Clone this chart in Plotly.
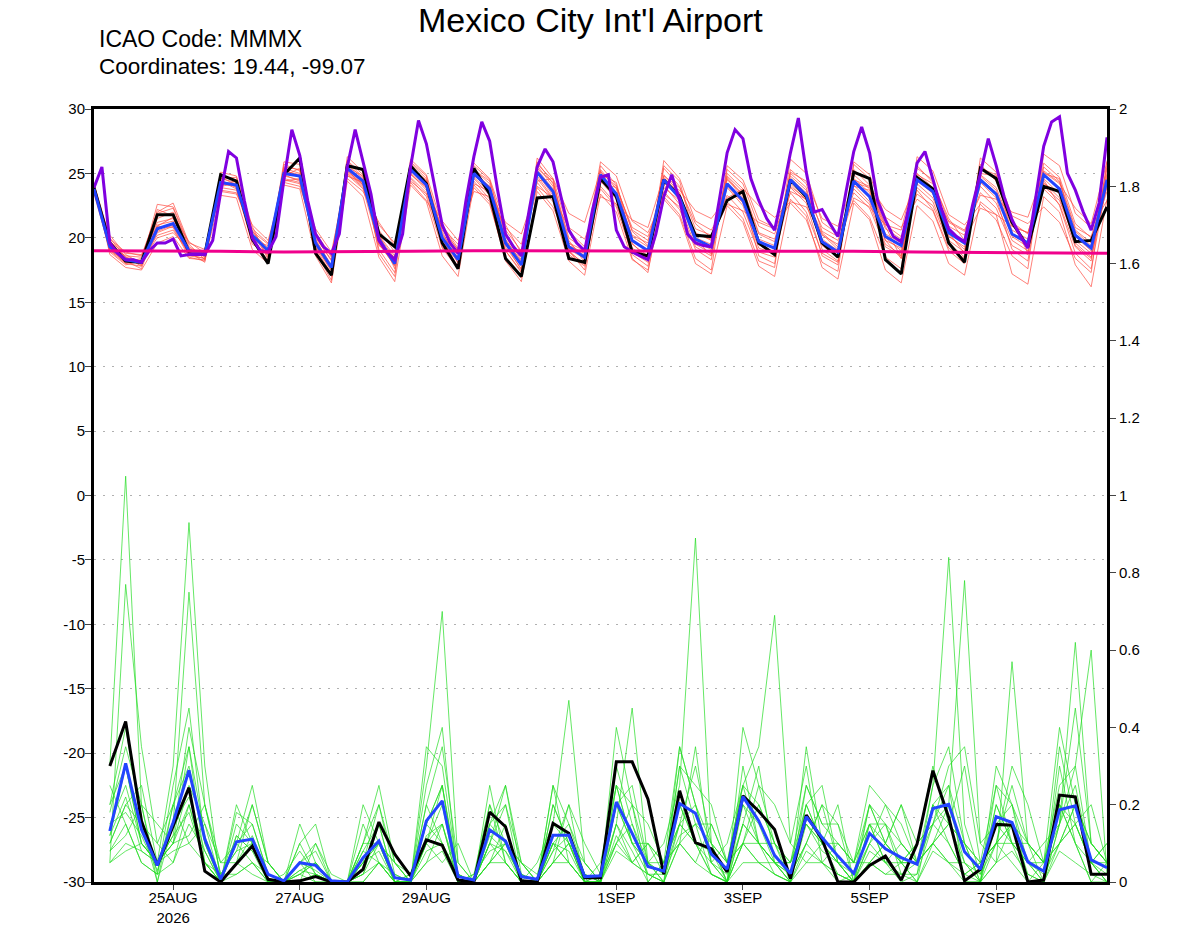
import plotly.graph_objects as go
import pandas as pd

# time axis: 6-hourly forecast steps, purple run is 3-hourly
start = "2026-08-23 18:00"
t6 = pd.date_range(start, periods=65, freq="6h")
t3 = pd.date_range(start, periods=129, freq="3h")
tday = pd.date_range(start, periods=17, freq="1D")

# temperature (left axis, degC)
temp_ctl = [23.9, 19.6, 18.2, 18.1, 21.8, 21.8, 18.9, 18.7, 24.9, 24.4,
            19.9, 18.0, 24.9, 26.2, 18.8, 17.1, 25.6, 25.3, 20.3, 19.3,
            25.6, 24.2, 19.6, 17.6, 25.4, 23.4, 18.4, 17.0, 23.1, 23.2,
            18.4, 18.1, 24.6, 23.2, 18.9, 18.6, 24.5, 23.2, 20.2, 20.1,
            22.9, 23.6, 19.6, 18.7, 24.5, 23.2, 19.6, 18.5, 25.1, 24.6,
            18.3, 17.2, 24.7, 23.8, 19.6, 18.1, 25.4, 24.6, 21.2, 19.3,
            24.0, 23.6, 19.7, 19.8, 22.4]
temp_mean = [23.8, 19.3, 18.3, 18.1, 20.7, 21.1, 19.0, 18.7, 24.3, 24.1,
             20.2, 19.0, 25.0, 24.8, 19.6, 17.7, 25.4, 24.4, 19.9, 18.0,
             25.3, 24.1, 20.0, 18.3, 25.0, 23.8, 19.6, 17.9, 25.1, 23.6,
             19.3, 18.5, 24.9, 23.4, 19.8, 19.0, 24.5, 23.1, 19.9, 19.3,
             24.2, 22.9, 19.7, 19.2, 24.5, 23.3, 19.7, 18.9, 24.4, 23.2,
             20.1, 19.4, 24.5, 23.6, 20.4, 19.6, 24.5, 23.4, 20.3, 19.6,
             24.9, 23.8, 20.2, 19.2, 24.5]
temp_hires = [23.9, 25.5, 19.6, 18.8, 18.3, 18.3, 18.1, 19.0, 19.6, 19.6,
              19.9, 18.6, 18.7, 18.7, 18.7, 19.8, 23.5, 26.7, 26.2, 22.9,
              20.0, 19.0, 18.9, 20.1, 24.5, 28.4, 26.4, 22.9, 20.3, 19.3,
              18.8, 20.3, 25.5, 28.4, 26.0, 23.4, 19.8, 18.9, 18.3, 20.3,
              25.5, 29.1, 27.3, 24.2, 21.0, 19.6, 18.8, 22.9, 26.3, 29.0,
              27.5, 23.7, 20.3, 19.3, 18.6, 22.2, 25.5, 26.9, 25.9, 23.2,
              20.6, 19.6, 19.0, 22.2, 24.7, 24.9, 20.6, 19.3, 18.9, 18.6,
              18.3, 20.3, 23.2, 24.9, 22.9, 20.3, 19.6, 19.4, 19.3, 22.9,
              26.6, 28.4, 27.7, 24.6, 22.9, 21.5, 20.6, 23.5, 26.6, 29.3,
              25.1, 22.0, 22.2, 21.1, 20.1, 23.5, 26.7, 28.6, 26.6, 22.9,
              21.4, 20.1, 19.7, 22.5, 25.8, 26.7, 24.5, 22.4, 20.7, 20.1,
              19.7, 22.5, 25.0, 27.7, 25.6, 23.2, 21.4, 20.2, 19.2, 23.0,
              27.1, 29.0, 29.4, 25.0, 23.7, 22.0, 20.6, 22.7, 27.8]
temp_clim = [19.0, 19.0, 18.95, 18.9, 18.9, 18.95, 19.0, 19.0, 18.95,
             18.95, 19.0, 19.0, 18.95, 18.9, 18.85, 18.85, 18.8]

temp_members = [
    [23.6, 19.8, 18.4, 17.9, 21.5, 22.0, 19.2, 18.5, 24.8, 24.5, 20.6, 18.6, 25.5, 25.3, 19.2, 17.2, 26.0, 24.9, 20.3, 17.6, 25.8, 24.6, 20.5, 18.0, 24.4, 23.0, 19.0, 17.4, 25.9, 24.2, 19.8, 18.1, 25.6, 24.1, 20.5, 19.4, 23.6, 22.2, 19.1, 18.3, 25.0, 23.8, 20.4, 19.9, 23.5, 22.0, 18.8, 18.1, 25.3, 24.1, 21.0, 20.1, 23.4, 22.5, 19.6, 18.5, 25.7, 24.4, 21.2, 20.3, 23.8, 22.6, 19.3, 18.2, 25.4],
    [24.1, 19.0, 18.0, 18.3, 20.2, 20.6, 18.8, 18.9, 23.9, 23.7, 19.8, 19.4, 24.6, 24.3, 20.1, 18.2, 24.9, 23.8, 19.4, 18.5, 24.7, 23.5, 19.5, 18.8, 25.6, 24.5, 20.3, 18.5, 24.3, 22.8, 18.7, 17.8, 24.0, 22.6, 19.2, 18.4, 25.4, 24.0, 20.7, 20.2, 23.3, 22.0, 18.9, 18.5, 25.3, 24.2, 20.5, 19.8, 23.5, 22.3, 19.3, 18.6, 25.4, 24.5, 21.2, 20.5, 23.5, 22.3, 19.4, 18.7, 25.8, 24.7, 21.1, 20.0, 23.6],
    [23.5, 20.2, 18.7, 18.0, 22.6, 22.4, 19.5, 18.3, 25.1, 24.8, 20.9, 18.3, 25.9, 25.7, 18.9, 16.7, 26.3, 25.1, 18.8, 17.0, 26.1, 24.9, 21.0, 19.2, 23.9, 22.6, 18.5, 16.9, 26.2, 24.6, 20.5, 19.3, 23.8, 22.4, 18.7, 17.8, 26.0, 24.6, 21.3, 20.6, 22.8, 21.5, 18.2, 17.7, 26.1, 25.0, 21.2, 20.3, 22.9, 21.6, 18.5, 17.6, 26.3, 25.2, 21.8, 21.0, 22.6, 21.4, 18.6, 17.6, 26.5, 25.6, 21.9, 20.8, 22.9],
    [24.0, 19.5, 18.2, 17.6, 21.0, 21.3, 18.6, 18.4, 24.5, 23.9, 19.5, 18.8, 25.2, 24.9, 19.8, 17.9, 25.0, 23.9, 20.6, 18.9, 24.6, 23.2, 19.2, 17.6, 25.3, 24.4, 20.1, 18.3, 24.8, 23.1, 18.9, 18.0, 25.1, 24.0, 20.6, 19.8, 24.1, 22.6, 19.3, 18.6, 24.5, 23.4, 20.3, 19.7, 24.8, 23.7, 19.1, 18.2, 24.9, 23.8, 20.7, 19.9, 23.9, 22.8, 19.8, 18.9, 24.9, 23.9, 20.9, 20.4, 24.3, 23.1, 19.6, 18.5, 24.1],
    [23.7, 18.9, 17.9, 18.2, 20.0, 20.4, 19.1, 19.0, 23.6, 23.4, 20.7, 19.6, 24.3, 24.0, 20.3, 18.5, 25.7, 24.6, 19.1, 17.3, 25.1, 23.9, 20.8, 19.5, 24.7, 23.5, 19.3, 17.6, 25.4, 24.3, 20.0, 19.1, 24.4, 23.0, 18.9, 18.1, 24.9, 23.5, 19.5, 18.8, 25.3, 24.2, 20.9, 20.3, 23.9, 22.7, 18.6, 17.9, 25.7, 24.6, 20.0, 19.0, 24.9, 24.2, 20.9, 20.2, 24.0, 22.7, 19.8, 19.0, 25.2, 24.3, 20.6, 19.6, 25.0],
    [23.9, 19.4, 18.6, 18.5, 21.9, 22.3, 19.3, 18.6, 24.0, 24.2, 20.0, 19.1, 24.9, 24.4, 19.3, 17.5, 25.2, 24.1, 20.0, 18.2, 25.5, 24.3, 19.7, 18.1, 24.6, 23.3, 19.8, 18.2, 25.0, 23.3, 19.1, 18.4, 25.3, 23.8, 20.1, 19.3, 23.9, 22.9, 19.7, 19.1, 23.9, 22.5, 19.2, 18.8, 24.2, 22.9, 20.2, 19.5, 24.1, 22.8, 19.8, 19.2, 25.0, 23.9, 20.1, 19.3, 24.8, 23.7, 20.6, 19.9, 24.6, 23.4, 20.5, 19.4, 24.8],
    [24.2, 20.0, 18.5, 17.8, 22.2, 21.7, 19.7, 18.8, 23.7, 23.5, 21.0, 19.8, 24.4, 24.6, 20.4, 18.6, 24.6, 23.6, 21.2, 19.4, 24.3, 22.9, 20.9, 19.0, 25.8, 24.6, 21.0, 18.8, 23.9, 22.4, 19.6, 19.0, 25.9, 24.8, 21.3, 20.4, 23.2, 21.8, 18.4, 17.5, 25.6, 24.5, 21.4, 20.8, 22.7, 21.4, 18.1, 17.4, 25.9, 24.9, 21.6, 20.8, 23.0, 22.1, 19.0, 18.0, 26.2, 25.1, 21.7, 21.1, 22.4, 21.2, 18.4, 17.3, 26.0],
    [23.4, 19.1, 18.1, 18.4, 20.5, 21.0, 18.9, 18.1, 24.6, 24.7, 20.3, 18.5, 25.7, 25.2, 19.0, 17.0, 25.9, 24.7, 19.6, 17.8, 25.9, 24.8, 19.3, 17.8, 25.1, 24.0, 19.5, 17.5, 25.6, 24.0, 19.0, 17.5, 24.6, 23.3, 20.2, 19.6, 24.7, 23.4, 20.3, 19.9, 24.8, 23.6, 19.5, 18.9, 24.6, 23.5, 20.8, 20.1, 23.8, 22.6, 19.5, 18.7, 24.6, 23.4, 20.5, 19.7, 24.3, 23.1, 19.1, 18.2, 25.5, 24.4, 20.8, 20.1, 23.9],
    [23.8, 19.7, 18.8, 18.7, 20.9, 20.8, 18.5, 18.2, 24.2, 24.0, 19.7, 18.7, 24.8, 24.5, 20.0, 18.3, 25.3, 24.2, 20.1, 18.4, 25.0, 23.7, 20.2, 18.4, 24.9, 23.7, 20.6, 19.0, 24.6, 23.0, 19.4, 18.8, 24.8, 23.5, 19.5, 18.6, 24.4, 23.2, 20.0, 19.5, 24.0, 22.7, 19.9, 19.4, 25.0, 23.9, 19.4, 18.5, 24.6, 23.5, 20.3, 19.6, 24.2, 23.1, 20.2, 19.1, 24.6, 23.5, 20.1, 19.3, 24.0, 22.9, 19.8, 18.8, 24.6],
    [24.3, 18.7, 17.7, 17.5, 19.6, 20.1, 18.4, 18.3, 23.3, 23.1, 19.1, 18.0, 24.1, 23.8, 18.6, 16.5, 24.4, 23.2, 18.5, 16.6, 24.1, 22.8, 18.6, 17.0, 24.1, 22.8, 18.2, 16.6, 23.6, 22.1, 18.2, 17.1, 23.4, 22.0, 18.3, 17.5, 23.0, 21.6, 18.0, 17.2, 22.5, 21.2, 17.8, 17.0, 23.0, 21.7, 17.7, 16.8, 22.7, 21.4, 17.5, 16.5, 22.5, 21.3, 18.0, 17.1, 22.8, 21.8, 17.2, 16.4, 23.2, 22.0, 17.9, 16.2, 23.0],
    [23.7, 19.5, 18.5, 18.2, 21.2, 21.5, 19.1, 18.6, 24.6, 24.3, 20.4, 19.2, 25.3, 24.7, 19.5, 17.6, 25.1, 24.0, 20.2, 18.6, 24.9, 23.9, 20.6, 19.1, 24.2, 23.6, 21.2, 20.3, 24.0, 23.1, 20.8, 19.9, 23.2, 22.6, 21.4, 20.8, 24.8, 23.9, 21.1, 20.0, 22.6, 22.1, 21.2, 20.7, 24.0, 23.0, 20.4, 19.3, 23.1, 22.4, 21.0, 20.6, 25.6, 24.3, 21.5, 19.8, 22.3, 21.8, 20.9, 20.4, 24.2, 23.5, 20.1, 19.0, 25.6],
    [23.6, 19.2, 18.0, 17.8, 20.4, 20.9, 18.7, 18.4, 24.1, 24.4, 19.9, 18.2, 24.8, 25.4, 19.4, 17.4, 25.5, 24.8, 19.5, 17.9, 25.6, 24.4, 19.9, 17.7, 25.3, 24.2, 19.0, 17.3, 25.3, 23.8, 19.6, 18.6, 24.3, 23.9, 20.8, 20.1, 23.4, 22.4, 20.4, 19.8, 24.6, 23.1, 18.6, 18.0, 25.1, 24.4, 21.5, 20.9, 24.3, 23.9, 20.9, 18.4, 23.7, 22.2, 19.2, 18.4, 25.0, 24.8, 21.4, 18.8, 24.5, 22.5, 18.8, 17.6, 24.3],
    [24.0, 19.9, 18.9, 18.6, 22.0, 22.7, 19.6, 19.1, 24.4, 23.8, 20.5, 19.5, 24.5, 24.2, 20.7, 18.9, 24.8, 24.3, 21.0, 19.6, 24.4, 23.4, 21.3, 19.8, 23.6, 23.2, 20.8, 19.5, 24.4, 24.6, 21.9, 21.2, 25.2, 23.2, 18.4, 17.3, 24.2, 23.7, 22.1, 21.5, 23.1, 23.8, 22.5, 21.6, 22.8, 22.4, 20.3, 19.1, 24.5, 24.0, 22.2, 21.4, 24.4, 23.5, 21.3, 20.6, 23.3, 23.0, 22.0, 21.6, 25.1, 24.2, 22.3, 21.1, 25.9],
    [23.9, 19.0, 18.3, 18.0, 20.9, 21.6, 18.8, 18.7, 24.7, 24.1, 20.1, 18.9, 25.4, 25.0, 19.9, 17.8, 25.2, 24.1, 19.7, 18.3, 25.4, 24.5, 20.3, 18.6, 24.8, 24.0, 19.9, 18.1, 25.7, 24.5, 19.0, 17.9, 24.9, 24.3, 19.6, 18.3, 25.6, 24.4, 19.8, 18.7, 24.7, 23.3, 19.5, 18.6, 23.6, 23.0, 19.9, 19.0, 24.0, 23.7, 19.8, 18.4, 24.7, 23.8, 20.4, 18.8, 25.4, 24.9, 20.2, 19.5, 25.0, 24.6, 19.4, 18.4, 24.4],
]

# 6-hourly precipitation (right axis), first value valid at the 2nd step
prcp_ctl = [0.30, 0.415, 0.158, 0.043, 0.145, 0.244, 0.028, 0.0,
            0.047, 0.093, 0.007, 0.0, 0.003, 0.014, 0.0, 0.0,
            0.033, 0.155, 0.072, 0.016, 0.109, 0.095, 0.005, 0.0,
            0.181, 0.143, 0.003, 0.0, 0.152, 0.126, 0.011, 0.011,
            0.311, 0.311, 0.214, 0.020, 0.236, 0.102, 0.086, 0.026,
            0.223, 0.183, 0.136, 0.009, 0.173, 0.111, 0.0, 0.0,
            0.043, 0.067, 0.005, 0.098, 0.288, 0.167, 0.003, 0.033,
            0.149, 0.147, 0.0, 0.005, 0.225, 0.220, 0.020, 0.020]
prcp_mean = [0.132, 0.307, 0.136, 0.043, 0.154, 0.289, 0.111, 0.007,
             0.104, 0.111, 0.020, 0.003, 0.050, 0.043, 0.003, 0.0,
             0.063, 0.106, 0.011, 0.005, 0.158, 0.210, 0.014, 0.005,
             0.135, 0.106, 0.014, 0.007, 0.121, 0.121, 0.014, 0.016,
             0.207, 0.126, 0.040, 0.028, 0.203, 0.178, 0.072, 0.033,
             0.221, 0.158, 0.069, 0.022, 0.169, 0.115, 0.067, 0.022,
             0.126, 0.086, 0.063, 0.046, 0.190, 0.201, 0.078, 0.033,
             0.169, 0.154, 0.052, 0.028, 0.187, 0.197, 0.057, 0.037]

prcp_members = [
    [.30, 1.05, .20, .02, .25, .45, .10, .00, .12, .08, .00, .00, .03, .05, .00, .00,
     .10, .20, .02, .00, .25, .40, .00, .00, .15, .10, .00, .00, .08, .20, .00, .00,
     .30, .15, .02, .00, .35, .20, .05, .00, .40, .25, .10, .00, .20, .10, .05, .00,
     .15, .05, .00, .02, .25, .35, .10, .00, .30, .20, .00, .00, .15, .30, .60, .02],
    [.10, .20, .25, .05, .30, .93, .30, .00, .18, .15, .02, .00, .10, .02, .00, .00,
     .05, .10, .00, .00, .35, .30, .02, .00, .10, .25, .05, .00, .20, .10, .00, .02,
     .15, .45, .05, .00, .20, .10, .02, .00, .10, .05, .02, .00, .25, .15, .10, .05,
     .05, .10, .05, .00, .10, .05, .00, .00, .20, .10, .00, .00, .20, .10, .00, .00],
    [.05, .77, .35, .10, .05, .20, .05, .00, .05, .20, .05, .00, .00, .10, .00, .00,
     .02, .15, .00, .02, .10, .25, .00, .00, .25, .05, .00, .00, .05, .10, .02, .00,
     .10, .05, .10, .05, .15, .30, .10, .00, .30, .10, .02, .00, .10, .20, .15, .00,
     .20, .10, .05, .10, .30, .15, .05, .02, .10, .25, .10, .00, .35, .15, .05, .00],
    [.20, .40, .15, .00, .15, .75, .20, .02, .02, .05, .00, .00, .15, .05, .00, .00,
     .00, .05, .00, .00, .20, .10, .00, .00, .10, .05, .00, .00, .25, .05, .00, .00,
     .25, .20, .00, .05, .10, .35, .05, .00, .15, .30, .05, .00, .05, .05, .00, .02,
     .20, .15, .10, .05, .10, .20, .05, .00, .25, .10, .05, .10, .15, .45, .10, .05],
    [.15, .25, .10, .05, .10, .20, .05, .00, .20, .10, .00, .00, .00, .02, .00, .00,
     .05, .10, .00, .00, .30, .70, .05, .00, .15, .20, .00, .00, .10, .05, .00, .00,
     .20, .10, .05, .02, .30, .25, .20, .05, .25, .10, .05, .05, .20, .10, .02, .00,
     .10, .20, .10, .05, .15, .25, .00, .00, .10, .05, .00, .05, .10, .20, .05, .10],
    [.08, .15, .05, .02, .05, .15, .08, .00, .10, .15, .02, .00, .02, .00, .00, .00,
     .15, .05, .00, .00, .05, .15, .00, .02, .20, .10, .05, .02, .15, .47, .05, .00,
     .25, .10, .02, .00, .15, .10, .02, .00, .20, .15, .05, .00, .35, .10, .05, .00,
     .05, .02, .05, .00, .20, .10, .02, .05, .10, .15, .05, .00, .30, .10, .00, .05],
    [.12, .30, .10, .05, .10, .25, .15, .00, .05, .02, .00, .00, .02, .05, .00, .00,
     .10, .10, .05, .00, .10, .20, .00, .00, .05, .10, .00, .00, .10, .15, .02, .00,
     .20, .25, .05, .10, .25, .89, .10, .05, .10, .20, .10, .05, .15, .10, .05, .00,
     .10, .05, .05, .05, .20, .15, .10, .00, .15, .20, .10, .05, .20, .15, .05, .00],
    [.18, .35, .20, .00, .20, .35, .05, .02, .08, .10, .00, .00, .05, .08, .00, .00,
     .00, .05, .02, .00, .15, .25, .00, .00, .10, .08, .02, .00, .05, .10, .00, .00,
     .15, .05, .10, .02, .15, .20, .05, .10, .25, .35, .69, .10, .30, .05, .10, .05,
     .15, .10, .20, .05, .10, .15, .10, .05, .10, .10, .05, .00, .10, .20, .10, .05],
    [.10, .20, .15, .10, .20, .30, .10, .00, .15, .10, .00, .02, .08, .02, .00, .00,
     .05, .08, .00, .00, .10, .15, .02, .00, .05, .15, .00, .05, .15, .10, .00, .05,
     .25, .10, .05, .00, .10, .15, .15, .05, .20, .10, .05, .05, .15, .10, .20, .00,
     .15, .05, .10, .05, .25, .84, .15, .02, .20, .10, .10, .05, .15, .25, .05, .00],
    [.12, .22, .08, .05, .10, .35, .12, .00, .12, .08, .05, .00, .02, .05, .00, .00,
     .08, .15, .00, .02, .15, .25, .02, .00, .20, .05, .00, .00, .10, .05, .00, .02,
     .10, .15, .05, .05, .20, .10, .05, .02, .15, .10, .10, .02, .10, .20, .05, .05,
     .20, .10, .05, .10, .15, .20, .78, .10, .15, .10, .05, .02, .10, .15, .05, .10],
    [.05, .10, .08, .05, .12, .18, .05, .00, .05, .12, .02, .00, .05, .03, .00, .00,
     .02, .10, .00, .00, .08, .10, .00, .02, .08, .10, .02, .00, .10, .08, .00, .00,
     .15, .08, .00, .05, .15, .10, .08, .00, .10, .05, .05, .00, .15, .08, .05, .02,
     .10, .15, .02, .05, .10, .05, .05, .00, .05, .57, .10, .05, .20, .10, .05, .02],
    [.15, .18, .12, .03, .15, .22, .08, .00, .10, .05, .00, .00, .03, .02, .00, .00,
     .08, .05, .00, .00, .12, .15, .00, .00, .12, .08, .00, .00, .08, .12, .02, .00,
     .12, .05, .02, .02, .12, .15, .02, .00, .15, .10, .05, .02, .10, .05, .02, .00,
     .08, .05, .02, .02, .15, .10, .02, .05, .10, .15, .02, .00, .15, .62, .10, .05],
    [.08, .12, .20, .15, .10, .12, .20, .05, .10, .25, .05, .00, .05, .00, .00, .00,
     .20, .10, .05, .00, .10, .05, .10, .00, .05, .10, .05, .00, .25, .15, .05, .00,
     .10, .20, .15, .05, .10, .05, .15, .05, .10, .25, .20, .10, .05, .10, .10, .05,
     .25, .20, .15, .05, .10, .15, .30, .05, .10, .30, .20, .05, .10, .15, .20, .05],
    [.25, .15, .05, .02, .20, .10, .15, .05, .05, .10, .00, .00, .10, .15, .00, .00,
     .05, .20, .05, .02, .15, .10, .02, .00, .10, .20, .05, .00, .05, .20, .10, .02,
     .20, .10, .10, .05, .35, .20, .10, .00, .10, .10, .05, .02, .20, .25, .05, .00,
     .05, .10, .20, .10, .15, .30, .35, .10, .05, .15, .10, .05, .40, .20, .10, .05],
    [.05, .08, .10, .05, .08, .10, .05, .00, .02, .05, .02, .00, .00, .02, .00, .00,
     .02, .05, .00, .00, .05, .08, .00, .00, .05, .05, .00, .00, .05, .05, .00, .00,
     .08, .05, .02, .00, .10, .05, .02, .00, .05, .05, .02, .00, .08, .05, .02, .00,
     .05, .02, .02, .00, .08, .05, .02, .00, .05, .08, .02, .00, .08, .05, .02, .00],
    [.20, .30, .10, .05, .12, .40, .20, .02, .08, .20, .05, .00, .05, .10, .02, .00,
     .10, .25, .05, .00, .20, .35, .05, .00, .15, .25, .02, .00, .20, .10, .05, .00,
     .40, .20, .05, .02, .30, .15, .10, .05, .25, .20, .10, .05, .25, .15, .15, .05,
     .15, .15, .05, .05, .20, .25, .10, .05, .25, .20, .05, .05, .25, .30, .05, .05],
]

tick_dates = ["2026-08-25", "2026-08-27", "2026-08-29", "2026-09-01",
              "2026-09-03", "2026-09-05", "2026-09-07"]
tick_text = ["25AUG<br>2026", "27AUG", "29AUG", "1SEP", "3SEP", "5SEP", "7SEP"]
left_ticks = [-30, -25, -20, -15, -10, -5, 0, 5, 10, 15, 20, 25, 30]
right_ticks = [0, 0.2, 0.4, 0.6, 0.8, 1, 1.2, 1.4, 1.6, 1.8, 2]

fig = go.Figure()

# ensemble members
for m in temp_members:
    fig.add_trace(go.Scatter(x=t6, y=m, mode="lines",
                             line=dict(color="#ff4a40", width=0.7)))
for m in prcp_members:
    fig.add_trace(go.Scatter(x=t6[1:], y=m, mode="lines", yaxis="y2",
                             line=dict(color="#22dd22", width=0.7)))

# precip control + mean
fig.add_trace(go.Scatter(x=t6[1:], y=prcp_ctl, mode="lines", yaxis="y2",
                         line=dict(color="black", width=3)))
fig.add_trace(go.Scatter(x=t6[1:], y=prcp_mean, mode="lines", yaxis="y2",
                         line=dict(color="#2244ff", width=3)))

# temperature control, mean, hi-res, climatology
fig.add_trace(go.Scatter(x=t6, y=temp_ctl, mode="lines",
                         line=dict(color="black", width=3)))
fig.add_trace(go.Scatter(x=t6, y=temp_mean, mode="lines",
                         line=dict(color="#2244ff", width=3)))
fig.add_trace(go.Scatter(x=t3, y=temp_hires, mode="lines",
                         line=dict(color="#8000e0", width=3)))
fig.add_trace(go.Scatter(x=tday, y=temp_clim, mode="lines",
                         line=dict(color="#f0008c", width=3)))

fnt = "Liberation Sans, Arial, sans-serif"
fig.update_layout(
    width=1200, height=927,
    margin=dict(l=94, r=93, t=109, b=45),
    paper_bgcolor="white", plot_bgcolor="white",
    showlegend=False,
    font=dict(family=fnt, size=15, color="black"),
    title=dict(text="Mexico City Int'l Airport", x=0.492, xanchor="center",
               y=0.978, yanchor="middle", font=dict(size=34)),
    xaxis=dict(range=["2026-08-23 18:00", "2026-09-08 18:00"],
               tickvals=tick_dates, ticktext=tick_text, automargin=False,
               ticks="outside", ticklen=5, tickwidth=1, showgrid=False,
               ticklabelstandoff=-5,
               showline=True, linewidth=3, linecolor="black", mirror=True,
               zeroline=False),
    yaxis=dict(range=[-30, 30], tickvals=left_ticks,
               ticktext=[str(v) for v in left_ticks], automargin=False,
               ticks="outside", ticklen=6, ticklabelstandoff=-3,
               showline=True, linewidth=3, linecolor="black", mirror=True,
               showgrid=True, gridcolor="#b0b0b0", griddash="2px,7px",
               gridwidth=1, zeroline=False),
    yaxis2=dict(range=[0, 2], tickvals=right_ticks,
                ticktext=[f"{v:g}" for v in right_ticks], automargin=False,
                overlaying="y", side="right",
                ticks="outside", ticklen=6, showline=True, linewidth=3,
                linecolor="black", showgrid=False, zeroline=False),
)

fig.add_annotation(text="ICAO Code: MMMX", xref="paper", yref="paper",
                   x=0.003, y=1.090, xanchor="left", yanchor="middle",
                   showarrow=False, font=dict(size=23))
fig.add_annotation(text="Coordinates: 19.44, -99.07", xref="paper",
                   yref="paper", x=0.003, y=1.055, xanchor="left",
                   yanchor="middle", showarrow=False, font=dict(size=22.5))

# drop the default page margin so the figure sits at the window corner
fig.write_html("out.html", config={"displayModeBar": False},
               post_script="document.body.style.margin='0';")
